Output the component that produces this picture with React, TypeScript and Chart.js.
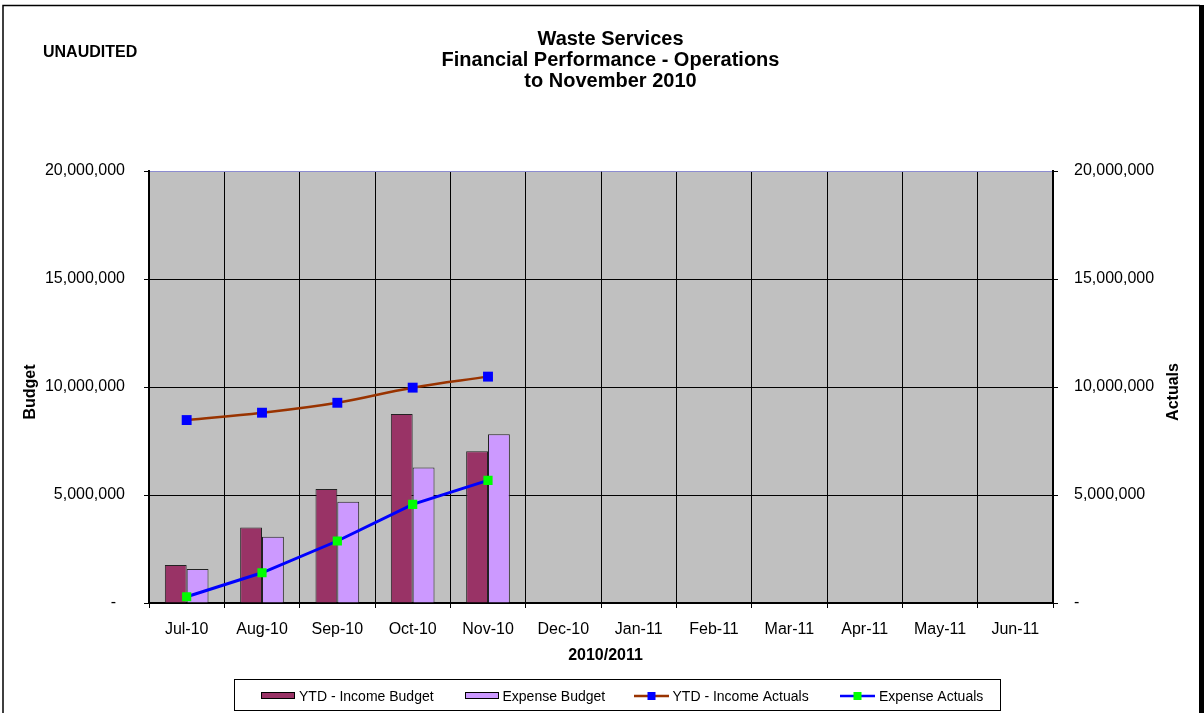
import React, { useEffect, useRef } from "react";
import { Chart, registerables } from "chart.js";

Chart.register(...registerables);

const months = ["Jul-10", "Aug-10", "Sep-10", "Oct-10", "Nov-10", "Dec-10", "Jan-11", "Feb-11", "Mar-11", "Apr-11", "May-11", "Jun-11"];
const incomeBudget = [1760000, 3500000, 5280000, 8750000, 7020000];
const expenseBudget = [1570000, 3070000, 4690000, 6270000, 7810000];
const incomeActuals = [8470000, 8810000, 9270000, 9970000, 10480000];
const expenseActuals = [290000, 1400000, 2870000, 4570000, 5680000];
const titleLines = ["Waste Services", "Financial Performance - Operations", "to November 2010"];
const legendLabels = ["YTD - Income Budget", "Expense Budget", "YTD - Income Actuals", "Expense Actuals"];

const FONT = '"Liberation Sans", Arial, sans-serif';

const fmt = (v: number) => (v === 0 ? "-  " : Math.round(v).toLocaleString("en-US"));

const decorPlugin = {
  id: "decor",
  beforeDraw(chart: any) {
    const { ctx, chartArea } = chart;
    ctx.save();
    ctx.fillStyle = "#ffffff";
    ctx.fillRect(0, 0, chart.width, chart.height);
    ctx.fillStyle = "#C0C0C0";
    ctx.fillRect(chartArea.left, chartArea.top, chartArea.right - chartArea.left, chartArea.bottom - chartArea.top);
    ctx.restore();
  },
  afterDraw(chart: any) {
    const ctx = chart.ctx;
    ctx.save();
    // outer frame
    ctx.strokeStyle = "#000";
    ctx.lineWidth = 1.5;
    ctx.beginPath();
    ctx.moveTo(3, 713);
    ctx.lineTo(3, 5.5);
    ctx.lineTo(1200, 5.5);
    ctx.stroke();
    ctx.fillStyle = "#000";
    ctx.fillRect(1199, 5, 5, 708);

    // titles
    ctx.fillStyle = "#000";
    ctx.textAlign = "center";
    ctx.textBaseline = "alphabetic";
    ctx.font = `bold 20px ${FONT}`;
    const baselines = [44.5, 66, 87];
    titleLines.forEach((t, i) => ctx.fillText(t, 610.5, baselines[i]));

    ctx.textAlign = "left";
    ctx.font = `bold 16px ${FONT}`;
    ctx.fillText("UNAUDITED", 43, 57);

    // axis titles
    ctx.textAlign = "center";
    ctx.fillText("2010/2011", 605.5, 660);
    ctx.save();
    ctx.translate(34.5, 392);
    ctx.rotate(-Math.PI / 2);
    ctx.fillText("Budget", 0, 0);
    ctx.restore();
    ctx.save();
    ctx.translate(1178, 392);
    ctx.rotate(-Math.PI / 2);
    ctx.fillText("Actuals", 0, 0);
    ctx.restore();

    // legend
    ctx.strokeStyle = "#000";
    ctx.lineWidth = 1;
    ctx.strokeRect(234.5, 679.5, 766, 31);
    ctx.font = `14px ${FONT}`;
    ctx.textAlign = "left";
    ctx.textBaseline = "alphabetic";
    // swatch 1
    ctx.fillStyle = "#993366";
    ctx.fillRect(261, 692, 34, 7);
    ctx.strokeRect(261.5, 692.5, 33, 6);
    ctx.fillStyle = "#000";
    ctx.fillText(legendLabels[0], 299, 701);
    // swatch 2
    ctx.fillStyle = "#CC99FF";
    ctx.fillRect(465, 692, 34, 7);
    ctx.strokeRect(465.5, 692.5, 33, 6);
    ctx.fillStyle = "#000";
    ctx.fillText(legendLabels[1], 502.5, 701);
    // line 3
    ctx.strokeStyle = "#993300";
    ctx.lineWidth = 2.5;
    ctx.beginPath();
    ctx.moveTo(634, 696);
    ctx.lineTo(669, 696);
    ctx.stroke();
    ctx.fillStyle = "#0000FF";
    ctx.fillRect(647.5, 692, 8, 8);
    ctx.fillStyle = "#000";
    ctx.fillText(legendLabels[2], 672.5, 701);
    // line 4
    ctx.strokeStyle = "#0000FF";
    ctx.beginPath();
    ctx.moveTo(840, 696);
    ctx.lineTo(875, 696);
    ctx.stroke();
    ctx.fillStyle = "#00FF00";
    ctx.fillRect(853.5, 692, 8, 8);
    ctx.fillStyle = "#000";
    ctx.fillText(legendLabels[3], 879, 701);
    ctx.restore();
  },
};

export default function App() {
  const ref = useRef<HTMLCanvasElement | null>(null);
  useEffect(() => {
    if (!ref.current) return;
    Chart.defaults.font.family = FONT;
    Chart.defaults.color = "#000";
    const chart = new Chart(ref.current, {
      type: "bar",
      data: {
        labels: months,
        datasets: [
          {
            type: "line",
            label: legendLabels[2],
            data: incomeActuals,
            yAxisID: "y1",
            borderColor: "#993300",
            borderWidth: 2.5,
            tension: 0.4,
            pointStyle: "rect",
            pointRadius: 7,
            pointBackgroundColor: "#0000FF",
            pointBorderColor: "#0000FF",
            pointBorderWidth: 0,
            order: 0,
          } as any,
          {
            type: "line",
            label: legendLabels[3],
            data: expenseActuals,
            yAxisID: "y1",
            borderColor: "#0000FF",
            borderWidth: 3,
            tension: 0,
            pointStyle: "rect",
            pointRadius: 6.5,
            pointBackgroundColor: "#00FF00",
            pointBorderColor: "#00FF00",
            pointBorderWidth: 0,
            order: 0,
          } as any,
          {
            type: "bar",
            label: legendLabels[0],
            data: incomeBudget,
            yAxisID: "y",
            backgroundColor: "#993366",
            borderColor: "#222",
            borderWidth: 1,
            categoryPercentage: 0.58,
            barPercentage: 1,
            order: 1,
          },
          {
            type: "bar",
            label: legendLabels[1],
            data: expenseBudget,
            yAxisID: "y",
            backgroundColor: "#CC99FF",
            borderColor: "#222",
            borderWidth: 1,
            categoryPercentage: 0.58,
            barPercentage: 1,
            order: 1,
          },
        ],
      },
      options: {
        responsive: false,
        animation: false,
        events: [],
        layout: { padding: { top: 171, left: 0, right: 0, bottom: 0 } },
        plugins: {
          legend: { display: false },
          title: { display: false },
          tooltip: { enabled: false },
        },
        scales: {
          x: {
            offset: true,
            grid: {
              offset: true,
              color: "#000",
              lineWidth: 1,
              tickLength: 5,
              tickColor: "#000",
            },
            border: { display: true, color: "#000", width: 2 },
            ticks: { font: { size: 16, family: FONT }, color: "#000", padding: 12, maxRotation: 0, autoSkip: false },
            afterFit: (s: any) => {
              s.height = 110;
            },
          },
          y: {
            position: "left",
            min: 0,
            max: 20000000,
            ticks: {
              stepSize: 5000000,
              font: { size: 16, family: FONT },
              color: "#000",
              padding: 19,
              callback: (v: any) => fmt(Number(v)),
            },
            grid: {
              color: (c: any) => (c.tick && c.tick.value === 20000000 ? "#8C8CD0" : "#000"),
              lineWidth: 1,
              tickLength: 5,
              tickColor: "#000",
            },
            border: { display: true, color: "#000", width: 2 },
            afterFit: (s: any) => {
              s.width = 149;
            },
          },
          y1: {
            position: "right",
            min: 0,
            max: 20000000,
            ticks: {
              stepSize: 5000000,
              font: { size: 16, family: FONT },
              color: "#000",
              padding: 16,
              callback: (v: any) => fmt(Number(v)),
            },
            grid: {
              drawOnChartArea: false,
              tickLength: 5,
              tickColor: "#000",
              color: "#000",
            },
            border: { display: true, color: "#000", width: 2 },
            afterFit: (s: any) => {
              s.width = 151;
            },
          },
        },
      } as any,
      plugins: [decorPlugin],
    });
    return () => chart.destroy();
  }, []);
  return (
    <div style={{ position: "absolute", left: 0, top: 0, width: 1204, height: 713, background: "#fff" }}>
      <canvas ref={ref} width={1204} height={713} style={{ display: "block", width: 1204, height: 713 }} />
    </div>
  );
}
